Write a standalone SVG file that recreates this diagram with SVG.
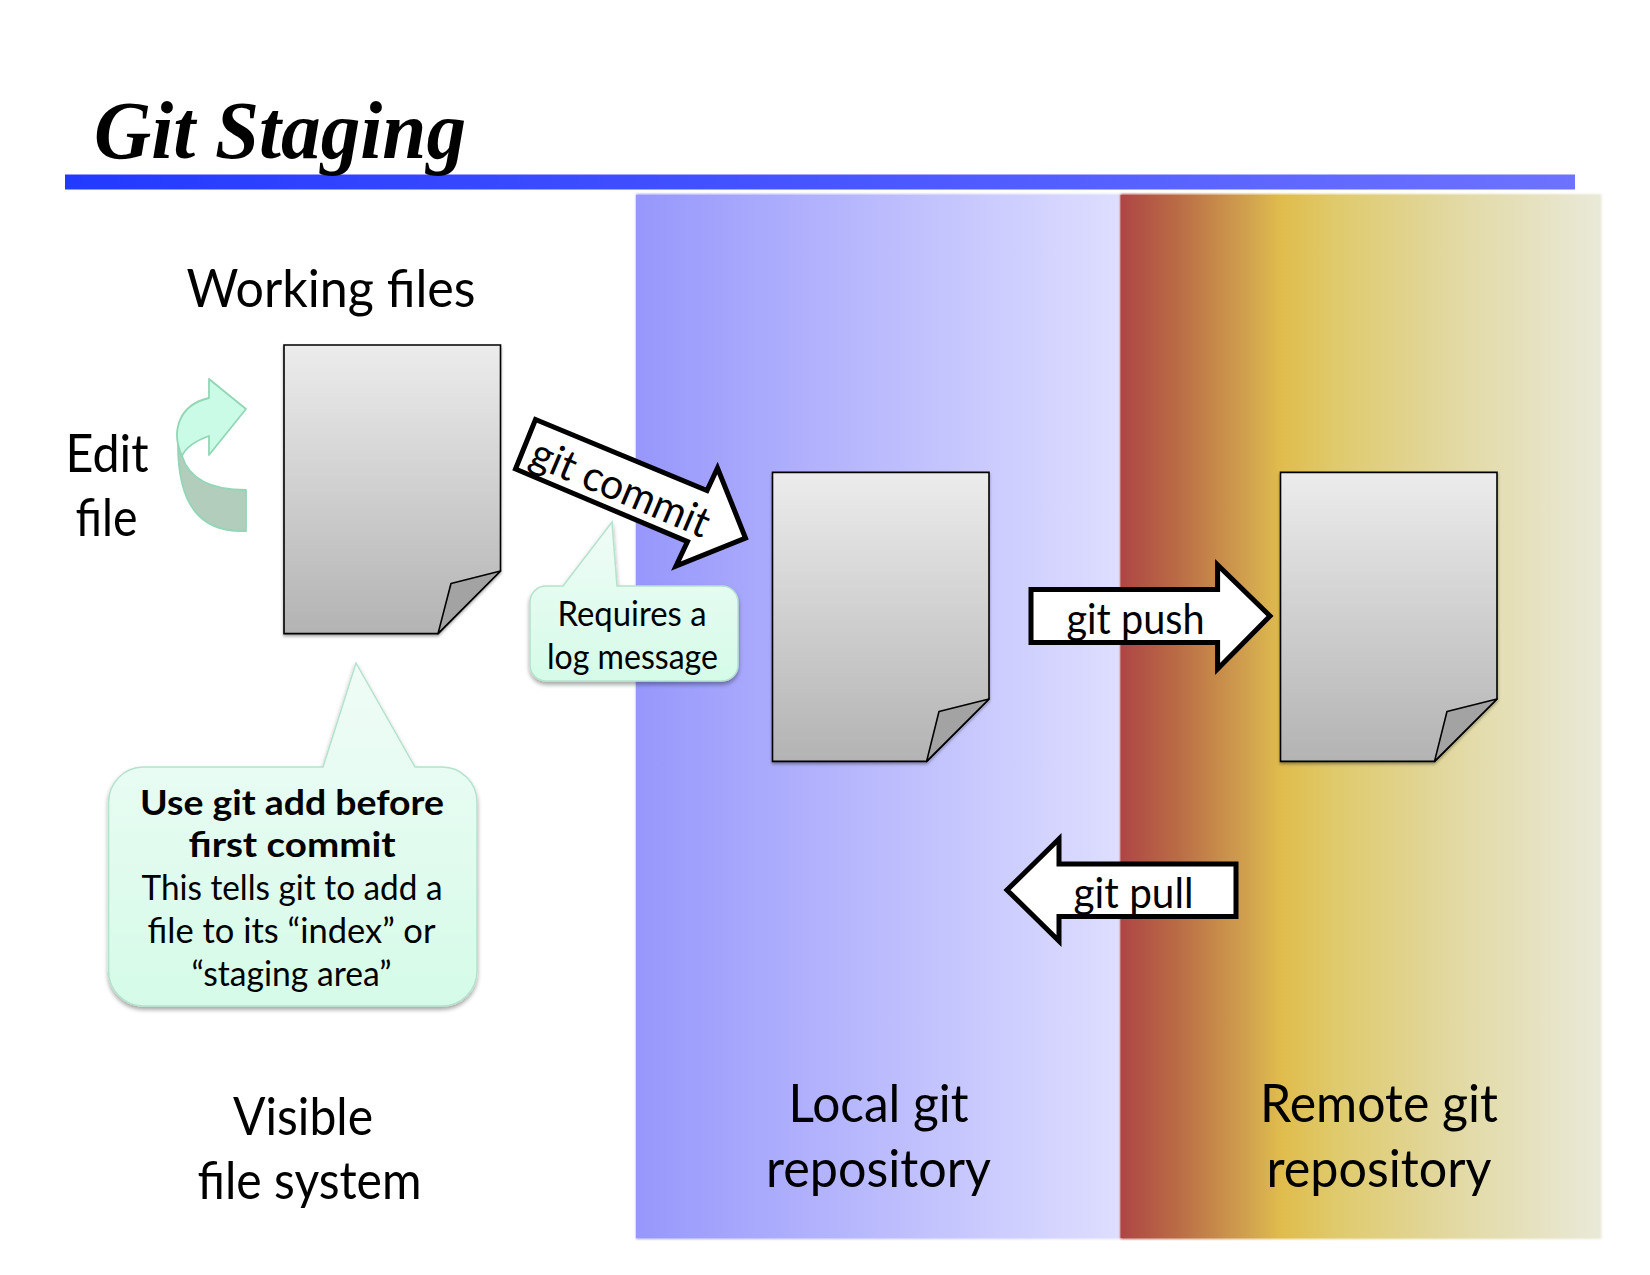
<svg xmlns="http://www.w3.org/2000/svg" width="1650" height="1275" viewBox="0 0 1650 1275">
<style>
text{font-family:"Lato","Open Sans","Liberation Sans",sans-serif;fill:#000;text-anchor:middle}
.big{font-size:52px}
.arr{font-size:42px}
.call{font-size:34px}
.b{font-weight:700;font-size:35px}
.page{fill:url(#pg);stroke:#000;stroke-width:1.6;stroke-linejoin:miter;filter:url(#sh)}
.fold{fill:#a3a3a3;stroke:#000;stroke-width:1.6;stroke-linejoin:round}
.flow{fill:#fff;stroke:#000;stroke-width:5;stroke-linejoin:miter}
.bub{stroke:#b4e2cd;stroke-width:1.5;filter:url(#sh2)}
</style>
<defs>
<linearGradient id="bar"><stop offset="0" stop-color="#2239ff"/><stop offset="1" stop-color="#6d72ff"/></linearGradient>
<linearGradient id="local"><stop offset="0" stop-color="#9797fc"/><stop offset="1" stop-color="#dedeff"/></linearGradient>
<linearGradient id="remote"><stop offset="0" stop-color="#ae4545"/><stop offset=".12" stop-color="#ba6c45"/><stop offset=".28" stop-color="#d3a74f"/><stop offset=".335" stop-color="#e0bc4c"/><stop offset=".45" stop-color="#dfca6c"/><stop offset=".7" stop-color="#e2d9a3"/><stop offset="1" stop-color="#e9e9d8"/></linearGradient>
<linearGradient id="pg" x1="0" y1="0" x2="0" y2="1"><stop offset="0" stop-color="#ececec"/><stop offset="1" stop-color="#b3b3b3"/></linearGradient>
<linearGradient id="bubg" x1="0" y1="0" x2="0" y2="1"><stop offset="0" stop-color="#f0fcf7"/><stop offset="1" stop-color="#d5fbe8"/></linearGradient>
<filter id="sh" x="-5%" y="-5%" width="110%" height="110%"><feDropShadow dx="0" dy="2" stdDeviation="1.5" flood-color="#000" flood-opacity=".35"/></filter>
<filter id="sh2" x="-5%" y="-5%" width="110%" height="110%"><feDropShadow dx="0" dy="3" stdDeviation="2" flood-color="#000" flood-opacity=".35"/></filter>
<filter id="soft" x="-2%" y="-2%" width="104%" height="104%"><feGaussianBlur stdDeviation="1.2"/></filter>
</defs>
<rect width="1650" height="1275" fill="#fff"/>

<g id="title">
<rect x="65" y="174.500" width="1510" height="15" fill="url(#bar)"/>
<text x="94" y="158" textLength="372" lengthAdjust="spacingAndGlyphs" style="font-family:'Liberation Serif',serif;font-weight:700;font-style:italic;font-size:82px;text-anchor:start">Git Staging</text>
</g>

<g id="panel-local">
<rect x="636" y="194" width="484" height="1045" fill="url(#local)" filter="url(#soft)"/>
<rect x="636" y="195" width="484" height="1043" fill="url(#local)"/>
</g>
<g id="panel-remote">
<rect x="1120.500" y="194" width="481" height="1045" fill="url(#remote)" filter="url(#soft)"/>
<rect x="1120.500" y="195" width="479" height="1043" fill="url(#remote)"/>
</g>

<g id="label-working"><text class="big" x="331" y="307" textLength="289" lengthAdjust="spacingAndGlyphs">Working files</text></g>
<g id="label-edit"><text class="big" x="107" y="472" textLength="83" lengthAdjust="spacingAndGlyphs">Edit</text><text class="big" x="106.500" y="536" textLength="62" lengthAdjust="spacingAndGlyphs">file</text></g>
<g id="label-visible"><text class="big" x="303" y="1135" textLength="140" lengthAdjust="spacingAndGlyphs">Visible</text><text class="big" x="309.500" y="1199" textLength="224" lengthAdjust="spacingAndGlyphs">file system</text></g>
<g id="label-local"><text class="big" x="878.500" y="1122" textLength="180" lengthAdjust="spacingAndGlyphs">Local git</text><text class="big" x="878.500" y="1187" textLength="225" lengthAdjust="spacingAndGlyphs">repository</text></g>
<g id="label-remote"><text class="big" x="1379" y="1122" textLength="238" lengthAdjust="spacingAndGlyphs">Remote git</text><text class="big" x="1379" y="1187" textLength="225" lengthAdjust="spacingAndGlyphs">repository</text></g>

<g id="edit-arrow" stroke="#93d6b6" stroke-width="1.8" stroke-linejoin="round">
<path d="M182 456C190 482 215 490 246 490V531C200 533 177 505 178 440C178 445 179 452 182 456Z" fill="#b3cdbd"/>
<path d="M209 379L246 409L209 455V436C195 441 186 447 182 456C171 432 178 405 209 398Z" fill="#c9fbe6"/>
</g>

<g id="doc-working">
<path class="page" d="M284 345H500.500V571L438 633.600H284Z"/>
<path class="fold" d="M500.500 571L451 583.500L438 633.600Z"/>
</g>
<g id="doc-local">
<path class="page" d="M772.500 472.400H989V699L926.600 761.400H772.500Z"/>
<path class="fold" d="M989 699L939 711.500L926.600 761.400Z"/>
</g>
<g id="doc-remote">
<path class="page" d="M1280.500 472.400H1497V699L1434.500 761.400H1280.500Z"/>
<path class="fold" d="M1497 699L1447 711.500L1434.500 761.400Z"/>
</g>

<g id="connectors">
<g id="arrow-commit">
<path class="flow" d="M535.500 419.500L707 490.600L717.500 468L745.500 538L676 566L687.500 541.600L515.500 469Z"/>
<text class="arr" textLength="190" lengthAdjust="spacingAndGlyphs" transform="translate(615 501) rotate(23)">git commit</text>
</g>
<g id="arrow-push">
<path class="flow" d="M1031 589.500H1217.600V565L1270 616L1217.600 669V642.500H1031Z"/>
<text class="arr" x="1135.500" y="634" textLength="138" lengthAdjust="spacingAndGlyphs">git push</text>
</g>
<g id="arrow-pull">
<path class="flow" d="M1236 864V916.500H1059V941L1007 890L1059 839V864Z"/>
<text class="arr" x="1133.500" y="908" textLength="120" lengthAdjust="spacingAndGlyphs">git pull</text>
</g>
</g>

<g id="callout-log">
<path class="bub" fill="url(#bubg)" d="M546 586H563L612 522L617 586H722A16 16 0 0 1 738 602V665A16 16 0 0 1 722 681H546A16 16 0 0 1 530 665V602A16 16 0 0 1 546 586Z"/>
<text class="call" x="632" y="626" textLength="149" lengthAdjust="spacingAndGlyphs">Requires a</text>
<text class="call" x="632.500" y="669" textLength="171" lengthAdjust="spacingAndGlyphs">log message</text>
</g>
<g id="callout-add">
<path class="bub" fill="url(#bubg)" d="M143 767H323L356 663L415 767H442A35 35 0 0 1 477 802V971A35 35 0 0 1 442 1006H143A35 35 0 0 1 108.600 971V802A35 35 0 0 1 143 767Z"/>
<text class="call b" x="292" y="815" textLength="304" lengthAdjust="spacingAndGlyphs">Use git add before</text>
<text class="call b" x="292" y="857" textLength="207" lengthAdjust="spacingAndGlyphs">first commit</text>
<text class="call" x="292" y="900" textLength="301" lengthAdjust="spacingAndGlyphs">This tells git to add a</text>
<text class="call" x="291.500" y="943" textLength="288" lengthAdjust="spacingAndGlyphs">file to its “index” or</text>
<text class="call" x="291.500" y="986" textLength="200" lengthAdjust="spacingAndGlyphs">“staging area”</text>
</g>
</svg>
